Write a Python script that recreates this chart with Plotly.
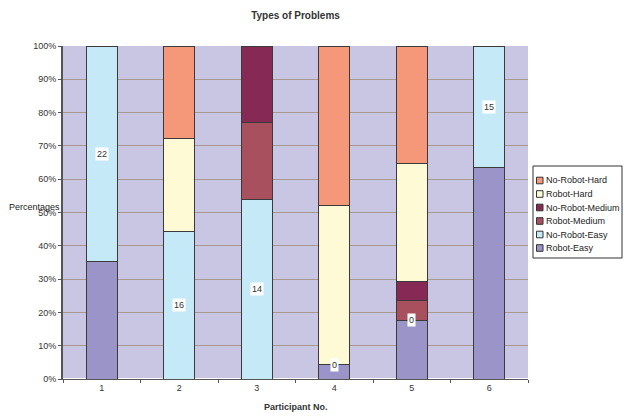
import plotly.graph_objects as go

participants = ["1", "2", "3", "4", "5", "6"]
series_names = ["Robot-Easy", "No-Robot-Easy", "Robot-Medium", "No-Robot-Medium", "Robot-Hard", "No-Robot-Hard"]
robot_easy = [12, 0, 0, 1, 3, 26]
no_robot_easy = [22, 16, 14, 0, 0, 15]
robot_medium = [0, 0, 6, 0, 1, 0]
no_robot_medium = [0, 0, 6, 0, 1, 0]
robot_hard = [0, 10, 0, 11, 6, 0]
no_robot_hard = [0, 10, 0, 11, 6, 0]
colors = ["#9B94C8", "#C6E9F8", "#A8505E", "#862A55", "#FFFAD6", "#F5987A"]

series = [robot_easy, no_robot_easy, robot_medium, no_robot_medium, robot_hard, no_robot_hard]

W, H = 624, 416
ML, MR, MT, MB = 63, 96, 46, 37
PW, PH = W - ML - MR, H - MT - MB


def px_x(px):
    return (px - ML) / PW


def px_y(py):
    return (H - MB - py) / PH


fig = go.Figure()
for name, vals, col in zip(series_names, series, colors):
    fig.add_trace(go.Bar(x=participants, y=vals, name=name, marker_color=col,
                         marker_line=dict(color="#3a3a3a", width=1), showlegend=False))

# labels for No-Robot-Easy at segment centre (in percent)
for i, p in enumerate(participants):
    total = sum(s[i] for s in series)
    base = robot_easy[i] / total * 100
    mid = base + no_robot_easy[i] / total * 100 / 2
    fig.add_annotation(x=i, y=mid, text=str(no_robot_easy[i]), showarrow=False,
                       bgcolor="white", font=dict(size=9, color="#333"), borderpad=1)

fig.add_annotation(text="Percentages", xref="paper", yref="paper", x=px_x(62), y=px_y(207),
                   xanchor="right", yanchor="middle", showarrow=False,
                   font=dict(size=9, color="#222"))
fig.add_annotation(text="<b>Participant No.</b>", xref="paper", yref="paper", x=0.5, y=px_y(407),
                   xanchor="center", yanchor="middle", showarrow=False,
                   font=dict(size=9, color="#333"))

# custom legend (top entry = last series)
fig.add_shape(type="rect", xref="paper", yref="paper",
              x0=px_x(533), x1=px_x(622), y0=px_y(166), y1=px_y(258),
              line=dict(color="#333", width=1), fillcolor="white", layer="above")
for k, (name, col) in enumerate(reversed(list(zip(series_names, colors)))):
    cy = 180.5 + k * 13.5
    fig.add_shape(type="rect", xref="paper", yref="paper",
                  x0=px_x(536.5), x1=px_x(543), y0=px_y(cy - 3.3), y1=px_y(cy + 3.3),
                  line=dict(color="#333", width=1), fillcolor=col, layer="above")
    fig.add_annotation(text=name, xref="paper", yref="paper", x=px_x(544), y=px_y(cy),
                       xanchor="left", yanchor="middle", showarrow=False,
                       font=dict(size=9, color="#222"))

fig.update_layout(
    width=W, height=H,
    barmode="stack", barnorm="percent", bargap=0.6,
    showlegend=False,
    title=dict(text="<b>Types of Problems</b>", x=(ML + PW / 2) / W, xanchor="center", y=0.97,
               yanchor="top", font=dict(size=10, color="#333")),
    font=dict(family="Liberation Sans", size=9, color="#333"),
    paper_bgcolor="white", plot_bgcolor="#C9C6E3",
    margin=dict(l=ML, r=MR, t=MT, b=MB, autoexpand=False),
    xaxis=dict(type="category", range=[-0.5, 5.5], automargin=False,
               showline=True, linecolor="#555", ticks="outside", tickson="boundaries",
               ticklen=3, tickcolor="#555", showgrid=False),
    yaxis=dict(range=[0, 100], dtick=10, ticksuffix="%", showline=True, linecolor="#555",
               linewidth=2, ticks="outside", ticklen=3, tickcolor="#555", automargin=False,
               gridcolor="#A8998E", gridwidth=1),
)
fig.write_html("out.html", config={"displayModeBar": False},
               post_script="document.body.style.margin='0';")
